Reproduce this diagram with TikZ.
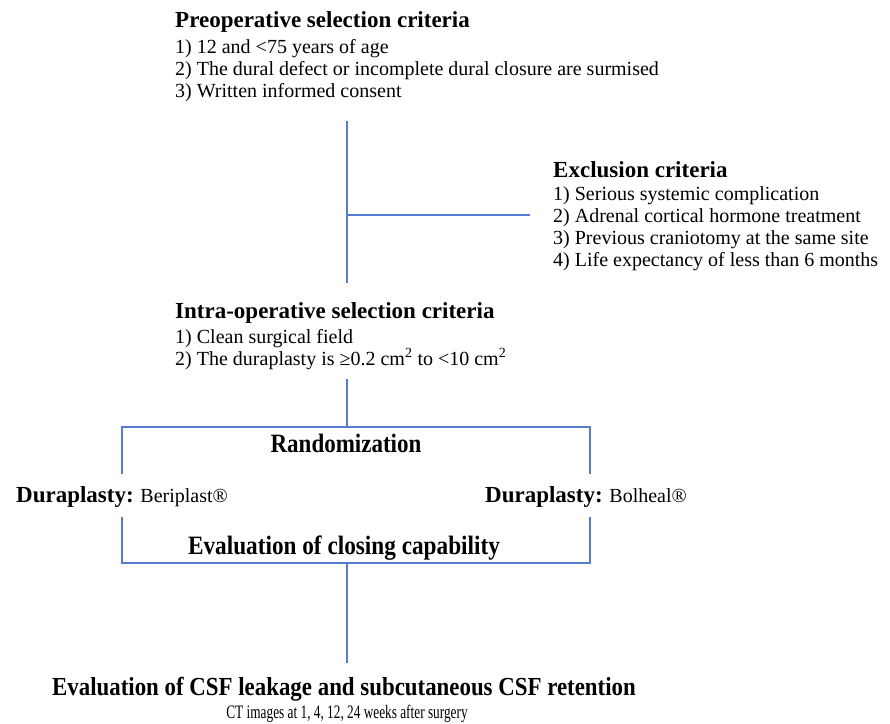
\documentclass[tikz,border=0pt]{standalone}
\usepackage{fontspec}
\setmainfont{Liberation Serif}
\definecolor{linkblue}{RGB}{84,125,204}
\tikzset{
 head/.style={font=\fontsize{23}{26}\selectfont\bfseries,inner sep=0pt,anchor=base west},
 tallhead/.style={font=\fontsize{26.5}{28}\selectfont\bfseries,inner sep=0pt,anchor=base},
 item/.style={font=\fontsize{20}{22}\selectfont,inner sep=0pt,anchor=base west},
 link/.style={draw=linkblue,line width=1.1pt},
}
\begin{document}
\begin{tikzpicture}[x=1pt,y=-1pt,line cap=butt,line join=miter]
 \useasboundingbox (0,0) rectangle (890,723);
 % preoperative criteria
 \node[head] (pre) at (175,27) {Preoperative selection criteria};
 \foreach \txt [count=\i] in {{1) 12 and <75 years of age},
  {2) The dural defect or incomplete dural closure are surmised},
  {3) Written informed consent}}
  \node[item] (pre\i) at (175,31+22*\i) {\txt};
 % exclusion criteria
 \node[head] (excl) at (553,177) {Exclusion criteria};
 \foreach \txt [count=\i] in {{1) Serious systemic complication},
  {2) Adrenal cortical hormone treatment},
  {3) Previous craniotomy at the same site},
  {4) Life expectancy of less than 6 months}}
  \node[item] (excl\i) at (553,178+22*\i) {\txt};
 % intra-operative criteria
 \node[head] (intra) at (175,318) {Intra-operative selection criteria};
 \node[item] (intra1) at (175,343) {1) Clean surgical field};
 \node[item] (intra2) at (175,365)
  {2) The duraplasty is ≥0.2 cm\textsuperscript{2} to <10 cm\textsuperscript{2}};
 \coordinate (pretop) at (347,121);
 \coordinate (prebot) at (347,283);
 \coordinate (exclfork) at (347,215);
 \coordinate (exclend) at (530,215);
 \draw[link] (pretop) -- (prebot);
 \draw[link] (exclfork) -- (exclend);
 % randomization
 \node[tallhead] (rand) at (346,452) {\scalebox{.868}[1]{Randomization}};
 \coordinate (randtop) at (347,379);
 \coordinate (randfork) at (347,427);
 \coordinate (armLtop) at (122,427);
 \coordinate (armRtop) at (590,427);
 \coordinate (armLend) at (122,474);
 \coordinate (armRend) at (590,474);
 \draw[link] (randtop) -- (randfork);
 \draw[link] (armLend) -- (armLtop) -- (armRtop) -- (armRend);
 % the two arms
 \node[item] (durL) at (16,502)
  {{\fontsize{23}{25}\selectfont\bfseries Duraplasty:} Beriplast®};
 \node[item] (durR) at (485,502)
  {{\fontsize{23}{25}\selectfont\bfseries Duraplasty:} Bolheal®};
 \coordinate (closeLtop) at (122,517);
 \coordinate (closeRtop) at (590,517);
 \coordinate (closeLbot) at (122,563);
 \coordinate (closeRbot) at (590,563);
 \coordinate (closemid) at (347,563);
 \coordinate (csftop) at (347,663);
 \draw[link] (closeLtop) -- (closeLbot) -- (closeRbot) -- (closeRtop);
 \draw[link] (closemid) -- (csftop);
 \node[tallhead] (close) at (344,554)
  {\scalebox{.877}[1]{Evaluation of closing capability}};
 % follow-up
 \node[tallhead] (csf) at (344,695)
  {\scalebox{.88}[1]{\fontsize{26}{28}\selectfont Evaluation of CSF leakage and subcutaneous CSF retention}};
 \node[item,anchor=base] (ct) at (347,718)
  {\scalebox{.7}[1]{\fontsize{19}{21}\selectfont CT images at 1, 4, 12, 24 weeks after surgery}};
\end{tikzpicture}
\end{document}
